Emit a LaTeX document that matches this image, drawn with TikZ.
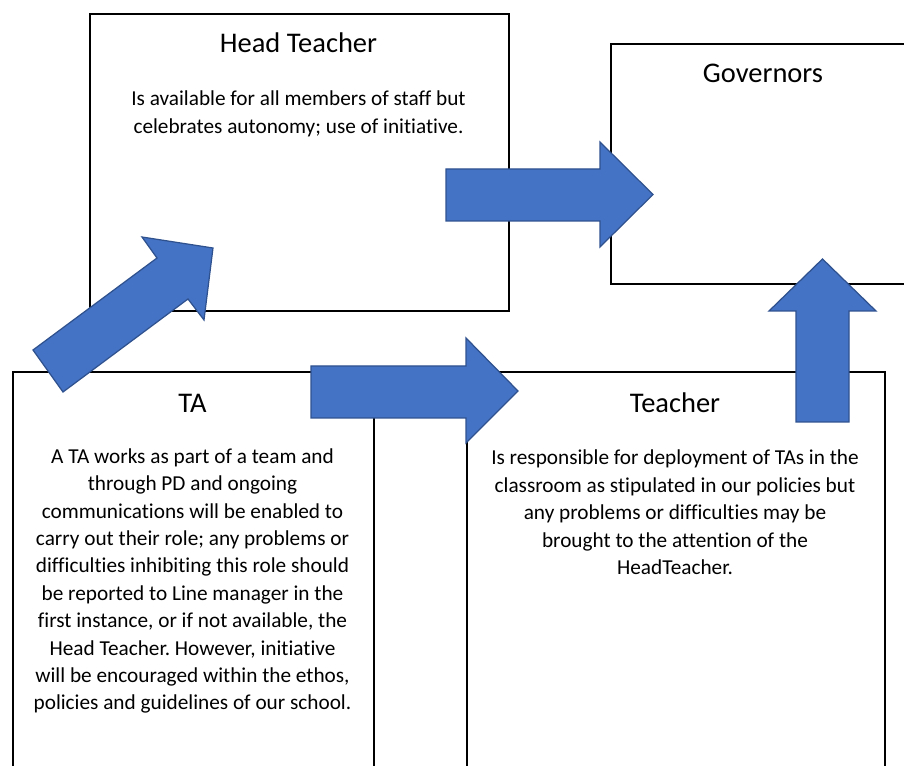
\documentclass[tikz,border=0pt]{standalone}
\usepackage{fontspec}
\setmainfont{Carlito}[Ligatures=NoCommon]
\usepackage{xcolor}
\usetikzlibrary{positioning}
\frenchspacing

\definecolor{arrowblue}{HTML}{4472C4}
\definecolor{arrowline}{HTML}{2F528F}

\tikzset{
	box/.style={draw, line width=1.2pt, anchor=north west},
	titletext/.style={font=\fontsize{16.2}{19}\selectfont, inner sep=0pt},
	bodytext/.style={font=\fontsize{12.1}{15.6}\selectfont, align=center, inner sep=0pt},
	blockarrow/.style={fill=arrowblue, draw=arrowline, line width=0.7pt, line join=miter}
}

\begin{document}
\begin{tikzpicture}[x=0.02cm, y=-0.02cm]
		\clip (0,0) rectangle (904,766);
		%
		%Head Teacher
		\node (head) at (89,13) [box, minimum width=8.38cm, minimum height=5.94cm] {};
		\node (headtitle) at (298.5,43) [titletext] {Head Teacher};
		\node (headbody) at (298.5,114) [bodytext] {Is available for all members of staff but\\celebrates autonomy; use of initiative.};
		%
		%Governors
		\node (gov) at (610,43) [box, minimum width=6.12cm, minimum height=4.8cm] {};
		\node (govtitle) at (763,73) [titletext] {Governors};
		%
		%TA
		\node (ta) at (12,371) [box, minimum width=7.22cm, minimum height=8.4cm] {};
		\node (tatitle) at (192.5,403) [titletext] {TA};
		\node (tabody) at (192.5,581) [bodytext] {A TA works as part of a team and\\through PD and ongoing\\communications will be enabled to\\carry out their role; any problems or\\difficulties inhibiting this role should\\be reported to Line manager in the\\first instance, or if not available, the\\Head Teacher. However, initiative\\will be encouraged within the ethos,\\policies and guidelines of our school.};
		%
		%Teacher
		\node (teacher) at (466,371) [box, minimum width=8.36cm, minimum height=8.4cm] {};
		\node (teachertitle) at (675,403) [titletext] {Teacher};
		\node (teacherbody) at (675,512.5) [bodytext] {Is responsible for deployment of TAs in the\\classroom as stipulated in our policies but\\any problems or difficulties may be\\brought to the attention of the\\HeadTeacher.};
		%
		%%%%%%%%%%%%%%%%%%%%%%%%%%%%%%%%%%%%%%
		%Pfeil TA - Head Teacher
		\draw[blockarrow] (33,350) -- (157,258) -- (142,237) -- (213,248) -- (204,320) -- (188,299) -- (63,392) -- cycle;
		%
		%Pfeil Head Teacher - Governors
		\draw[blockarrow] (446,169) -- (600,169) -- (600,142) -- (653,194.5) -- (600,247) -- (600,221) -- (446,221) -- cycle;
		%
		%Pfeil TA - Teacher
		\draw[blockarrow] (311,366) -- (466,366) -- (466,338) -- (518,391) -- (466,443) -- (466,418) -- (311,418) -- cycle;
		%
		%Pfeil Teacher - Governors
		\draw[blockarrow] (796,422) -- (796,311) -- (769,311) -- (822.5,259) -- (876,311) -- (849,311) -- (849,422) -- cycle;
\end{tikzpicture}
\end{document}
